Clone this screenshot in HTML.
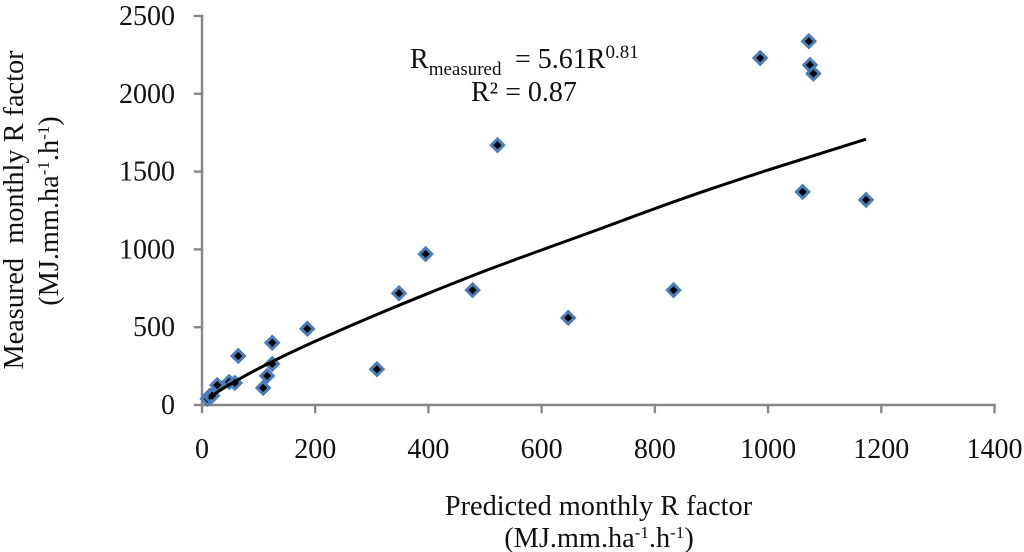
<!DOCTYPE html>
<html lang="en">
<head>
<meta charset="utf-8">
<title>Measured vs predicted monthly R factor</title>
<style>
html,body{margin:0;padding:0;background:#fff;width:1024px;height:552px;overflow:hidden}
svg{display:block}
text{font-family:"Liberation Serif",serif;fill:#111}
</style>
</head>
<body>
<svg id="chart" width="1024" height="552" viewBox="0 0 1024 552" xmlns="http://www.w3.org/2000/svg">
  <g id="axis-layer"></g>
  <g id="point-layer"></g>
  <g id="trend-layer"></g>
  <g id="tick-layer"></g>

  <text x="598.5" y="515" font-size="28.3" text-anchor="middle">Predicted monthly R factor</text>
  <text x="599" y="547" font-size="28.3" text-anchor="middle">(MJ.mm.ha<tspan font-size="17" dy="-9">-1</tspan><tspan dy="9">.h</tspan><tspan font-size="17" dy="-9">-1</tspan><tspan dy="9">)</tspan></text>

  <text transform="translate(23 210) rotate(-90)" font-size="28.3" text-anchor="middle" xml:space="preserve">Measured  monthly R factor</text>
  <text transform="translate(58 211) rotate(-90)" font-size="28.3" text-anchor="middle">(MJ.mm.ha<tspan font-size="17" dy="-9">-1</tspan><tspan dy="9">.h</tspan><tspan font-size="17" dy="-9">-1</tspan><tspan dy="9">)</tspan></text>

  <text x="410" y="68" font-size="28">R<tspan font-size="19" dy="7">measured</tspan><tspan x="515" dy="-7">= 5.61R</tspan><tspan font-size="19" dy="-10">0.81</tspan></text>
  <text x="471" y="101" font-size="28">R² = 0.87</text>
</svg>
<script>
const xTicks = [0, 200, 400, 600, 800, 1000, 1200, 1400];
const yTicks = [0, 500, 1000, 1500, 2000, 2500];
const predicted = [10, 14, 18, 27, 48, 58, 64, 108, 115, 124, 124, 186, 309, 348, 395, 478, 522, 647, 833, 986, 1061, 1072, 1074, 1080, 1173];
const measured = [40, 60, 60, 128, 148, 142, 315, 110, 187, 400, 264, 490, 230, 718, 970, 738, 1670, 560, 738, 2230, 1370, 2338, 2185, 2130, 1318];
const trendX = [12, 30, 60, 100, 150, 200, 300, 400, 500, 600, 700, 800, 900, 1000, 1100, 1173];
const trendY = [40, 90, 155, 234, 325, 410, 568, 718, 862, 996, 1128, 1262, 1390, 1510, 1625, 1708];

const NS = 'http://www.w3.org/2000/svg';
function xScale(v) { return 202 + v * (994.5 - 202) / 1400; }
function yScale(v) { return 405 - v * (405 - 16) / 2500; }
function make(tag, attrs, parent) {
  const el = document.createElementNS(NS, tag);
  for (const k in attrs) el.setAttribute(k, attrs[k]);
  parent.appendChild(el);
  return el;
}
const axisLayer = document.getElementById('axis-layer');
const tickLayer = document.getElementById('tick-layer');
const pointLayer = document.getElementById('point-layer');
const trendLayer = document.getElementById('trend-layer');
const axisStyle = { stroke: '#868686', 'stroke-width': 2.4, fill: 'none', 'stroke-linecap': 'square' };

const xAxisLine = make('line', Object.assign({ x1: xScale(0), x2: xScale(1400), y1: yScale(0), y2: yScale(0) }, axisStyle), axisLayer);


const yAxisLine = make('line', Object.assign({ x1: xScale(0), x2: xScale(0), y1: yScale(0), y2: yScale(2500) }, axisStyle), axisLayer);



xTicks.forEach(function (t) {
  const mark = make('line', Object.assign({ x1: xScale(t), x2: xScale(t), y1: yScale(0), y2: yScale(0) + 7 }, axisStyle), axisLayer);
  
  
  const label = make('text', { x: xScale(t), y: 458, 'font-size': 28, 'text-anchor': 'middle' }, tickLayer);
  label.textContent = t;
  
  
});
yTicks.forEach(function (t) {
  const mark = make('line', Object.assign({ x1: xScale(0) - 7, x2: xScale(0), y1: yScale(t), y2: yScale(t) }, axisStyle), axisLayer);
  
  
  const label = make('text', { x: 175, y: yScale(t) + 9, 'font-size': 28, 'text-anchor': 'end' }, tickLayer);
  label.textContent = t;
  
  
});

const trendPts = trendX.map(function (v, i) { return [xScale(v), yScale(trendY[i])]; });
let trendD = 'M' + trendPts[0][0].toFixed(1) + ' ' + trendPts[0][1].toFixed(1);
for (let i = 0; i < trendPts.length - 1; i++) {
  const p0 = trendPts[Math.max(i - 1, 0)], p1 = trendPts[i], p2 = trendPts[i + 1], p3 = trendPts[Math.min(i + 2, trendPts.length - 1)];
  const c1 = [p1[0] + (p2[0] - p0[0]) / 6, p1[1] + (p2[1] - p0[1]) / 6];
  const c2 = [p2[0] - (p3[0] - p1[0]) / 6, p2[1] - (p3[1] - p1[1]) / 6];
  trendD += ' C' + [c1[0], c1[1], c2[0], c2[1], p2[0], p2[1]].map(function (n) { return n.toFixed(1); }).join(' ');
}
const trendPath = make('path', { d: trendD, fill: 'none', stroke: '#000', 'stroke-width': 3, 'stroke-linejoin': 'round' }, trendLayer);



predicted.forEach(function (v, i) {
  const cx = xScale(v), cy = yScale(measured[i]);
  const r = 6.2;
  const d = make('polygon', {
    points: [[cx, cy - r], [cx + r, cy], [cx, cy + r], [cx - r, cy]].map(function (p) { return p.join(','); }).join(' '),
    fill: '#000', stroke: '#4a7ebb', 'stroke-width': 3, 'stroke-linejoin': 'miter'
  }, pointLayer);
  
  
});
</script>
</body>
</html>
